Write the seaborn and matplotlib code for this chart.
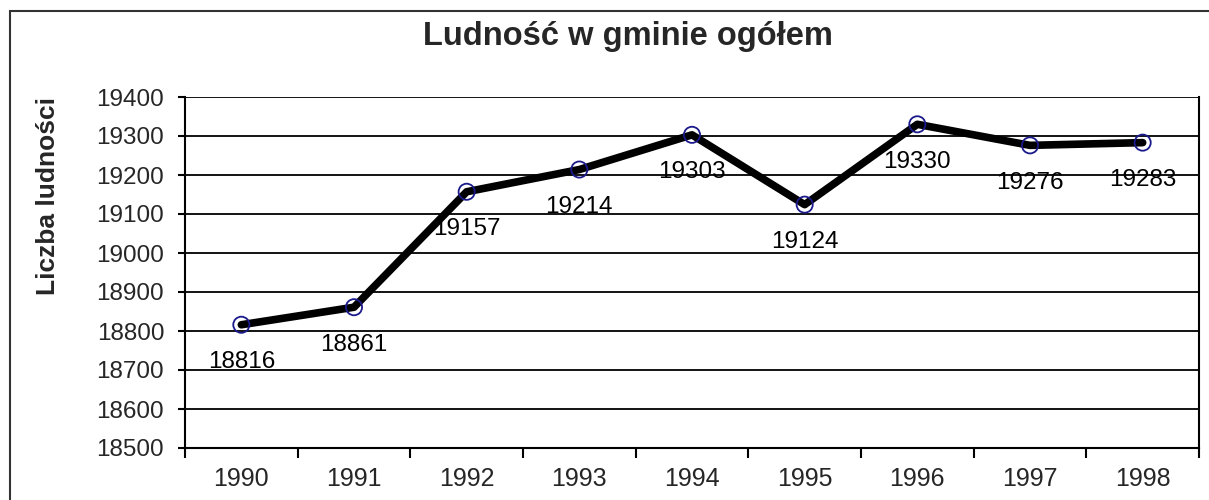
import matplotlib
matplotlib.use("Agg")
import matplotlib.pyplot as plt
import matplotlib.patches as patches
from matplotlib.ticker import FixedLocator
import pandas as pd
import seaborn as sns

years = [1990, 1991, 1992, 1993, 1994, 1995, 1996, 1997, 1998]
population = [18816, 18861, 19157, 19214, 19303, 19124, 19330, 19276, 19283]
y_ticks = list(range(18500, 19401, 100))

df = pd.DataFrame({"Rok": years, "Ludnosc": population})

sns.set_theme(style="white")
plt.rcParams["font.family"] = ["Liberation Sans", "DejaVu Sans"]

fig = plt.figure(figsize=(12.09, 5.0), dpi=100)
ax = fig.add_axes([185 / 1209, 1 - 448 / 500, 1014 / 1209, 351 / 500])

sns.lineplot(data=df, x="Rok", y="Ludnosc", color="black", linewidth=5.5,
             ax=ax, zorder=3)
sns.scatterplot(data=df, x="Rok", y="Ludnosc", s=135, facecolor="none",
                edgecolor="#1a1a8c", linewidth=1.3, ax=ax, zorder=4)

for yr, val in zip(years, population):
    ax.annotate(str(val), (yr, val), xytext=(0, -27), textcoords="offset points",
                ha="center", va="center", fontsize=17.5, color="black", zorder=5)

ax.set_xlim(years[0] - 0.5, years[-1] + 0.5)
ax.set_ylim(y_ticks[0], y_ticks[-1])
ax.set_yticks(y_ticks)
ax.set_xticks(years)
ax.xaxis.set_minor_locator(FixedLocator([y + 0.5 for y in [years[0] - 1] + years]))
ax.tick_params(axis="x", which="major", length=0, labelsize=18, pad=14)
ax.tick_params(axis="x", which="minor", length=7, width=1.5, color="black",
               direction="out", bottom=True)
ax.tick_params(axis="y", which="major", length=5, width=1.5, color="black",
               direction="out", left=True, labelsize=17.5, pad=10)

ax.grid(axis="y", color="black", linewidth=1.3)
ax.set_axisbelow(True)
for side in ["left", "bottom", "right"]:
    ax.spines[side].set_color("black")
    ax.spines[side].set_linewidth(1.5)
ax.spines["top"].set_visible(False)

ax.set_xlabel("")
ax.set_ylabel("")
fig.text(48 / 1209, 1 - 196 / 500, "Liczba ludności", rotation=90,
         ha="center", va="center", fontsize=19, fontweight="bold")
fig.text(628 / 1209, 1 - 37 / 500, "Ludność w gminie ogółem",
         ha="center", va="center", fontsize=23.5, fontweight="bold")

frame = patches.Rectangle((10 / 1209, -0.1), 1.2, 1.1 - 11 / 500,
                          transform=fig.transFigure, fill=False,
                          edgecolor="#333333", linewidth=1.5)
fig.patches.append(frame)

fig.savefig("out.png", dpi=100)
